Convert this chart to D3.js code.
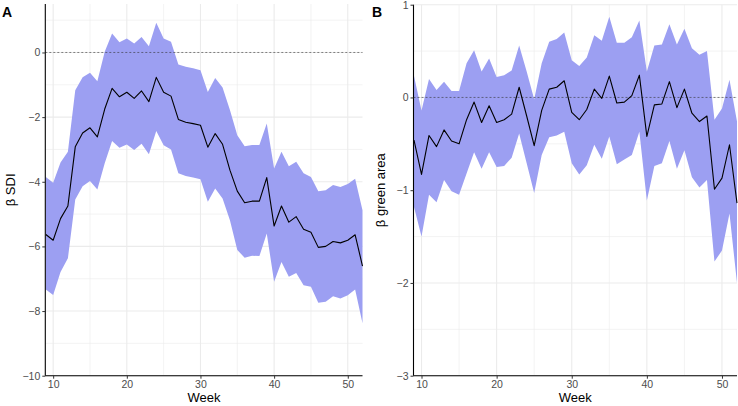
<!DOCTYPE html>
<html><head><meta charset="utf-8">
<script src="https://cdn.jsdelivr.net/npm/d3@7"></script>
<style>body{margin:0;background:#fff}svg{display:block}</style>
</head><body>
<script>
const weeks = d3.range(9, 53);
// Panel A: beta SDI
const sdiEst = [-5.63,-5.81,-5.14,-4.75,-2.92,-2.49,-2.33,-2.61,-1.75,-1.11,-1.37,-1.23,-1.42,-1.19,-1.52,-0.77,-1.23,-1.35,-2.07,-2.16,-2.20,-2.25,-2.93,-2.51,-2.84,-3.64,-4.29,-4.65,-4.60,-4.60,-3.87,-5.37,-4.75,-5.25,-5.08,-5.47,-5.56,-6.03,-6.00,-5.85,-5.89,-5.81,-5.64,-6.61];
const sdiUpper = [-3.85,-4.03,-3.40,-3.07,-1.17,-0.77,-0.63,-0.89,0.02,0.59,0.32,0.43,0.28,0.48,0.19,0.92,0.43,0.33,-0.37,-0.44,-0.49,-0.55,-1.22,-0.79,-1.08,-1.78,-2.56,-2.90,-2.86,-2.86,-2.20,-3.59,-3.07,-3.52,-3.38,-3.74,-3.85,-4.29,-4.26,-4.10,-4.16,-4.07,-3.91,-4.88];
const sdiLower = [-7.33,-7.50,-6.79,-6.37,-4.55,-4.14,-3.98,-4.24,-3.43,-2.74,-2.95,-2.85,-3.02,-2.82,-3.15,-2.43,-2.87,-3.00,-3.74,-3.82,-3.87,-3.92,-4.62,-4.21,-4.52,-5.19,-6.11,-6.35,-6.29,-6.30,-5.60,-7.09,-6.48,-6.94,-6.82,-7.20,-7.25,-7.74,-7.71,-7.54,-7.61,-7.51,-7.33,-8.38];
// Panel B: beta green area
const greenEst = [-0.46,-0.83,-0.41,-0.53,-0.35,-0.47,-0.50,-0.24,-0.05,-0.27,-0.09,-0.27,-0.24,-0.18,0.11,-0.20,-0.52,-0.14,0.09,0.11,0.18,-0.16,-0.24,-0.13,0.09,-0.01,0.23,-0.06,-0.05,0.02,0.24,-0.42,-0.08,-0.07,0.17,-0.11,0.09,-0.17,-0.26,-0.20,-0.99,-0.87,-0.51,-1.14];
const greenUpper = [0.23,-0.14,0.20,0.08,0.17,0.07,0.07,0.37,0.51,0.28,0.42,0.22,0.24,0.29,0.56,0.28,-0.02,0.37,0.60,0.63,0.70,0.40,0.34,0.43,0.67,0.61,0.87,0.59,0.59,0.65,0.83,0.28,0.56,0.57,0.79,0.57,0.74,0.53,0.46,0.50,-0.24,-0.12,0.19,-0.26];
const greenLower = [-1.18,-1.50,-1.05,-1.13,-0.89,-1.01,-1.05,-0.82,-0.59,-0.77,-0.59,-0.75,-0.74,-0.65,-0.39,-0.71,-1.03,-0.62,-0.43,-0.41,-0.37,-0.71,-0.83,-0.73,-0.51,-0.66,-0.42,-0.72,-0.67,-0.62,-0.37,-1.11,-0.74,-0.71,-0.47,-0.77,-0.57,-0.86,-0.97,-0.89,-1.77,-1.65,-1.25,-2.00];

const xTicks = [10,20,30,40,50];
const xMinor = [15,25,35,45];
const sdiTicks = [0,-2,-4,-6,-8,-10];
const sdiMinor = [1,-1,-3,-5,-7,-9];
const greenTicks = [1,0,-1,-2,-3];
const greenMinor = [0.5,-0.5,-1.5,-2.5];

const W = 738, H = 406;
const svg = d3.select("body").append("svg").attr("width", W).attr("height", H);
const FONT = "'Liberation Sans', Arial, Helvetica, sans-serif";
const fmt = v => (v < 0 ? "\u2212" + Math.abs(v) : String(v));

function panel(opt) {
  const {left, right, top, bottom, yDomain, est, upper, lower, yTicks, yMinor, label, ytitle, ytitleX, tagX} = opt;
  const x = d3.scaleLinear().domain([9, 52]).range([left + 0.5, right]);
  const y = d3.scaleLinear().domain(yDomain).range([bottom, top]);
  const g = svg.append("g");
  const grid = g.append("g");
  yMinor.forEach(v => grid.append("line").attr("x1", left).attr("x2", right).attr("y1", y(v)).attr("y2", y(v)).attr("stroke", "#ebebeb").attr("stroke-width", 0.6));
  xMinor.forEach(v => grid.append("line").attr("y1", top).attr("y2", bottom).attr("x1", x(v)).attr("x2", x(v)).attr("stroke", "#ebebeb").attr("stroke-width", 0.6));
  yTicks.forEach(v => grid.append("line").attr("x1", left).attr("x2", right).attr("y1", y(v)).attr("y2", y(v)).attr("stroke", "#ebebeb").attr("stroke-width", 1.1));
  xTicks.forEach(v => grid.append("line").attr("y1", top).attr("y2", bottom).attr("x1", x(v)).attr("x2", x(v)).attr("stroke", "#ebebeb").attr("stroke-width", 1.1));

  const data = weeks.map((w, i) => ({w, e: est[i], u: upper[i], l: lower[i]}));
  g.append("path").datum(data)
    .attr("d", d3.area().x(d => x(d.w)).y0(d => y(d.l)).y1(d => y(d.u)))
    .attr("fill", "#9c9ff2");
  g.append("line").attr("x1", left).attr("x2", right).attr("y1", y(0)).attr("y2", y(0))
    .attr("stroke", "#333").attr("stroke-width", 0.6).attr("stroke-dasharray", "2,2");
  g.append("path").datum(data)
    .attr("d", d3.line().x(d => x(d.w)).y(d => y(d.e)))
    .attr("fill", "none").attr("stroke", "#000").attr("stroke-width", 1.1).attr("stroke-linejoin", "round");

  const yAxis = g.append("g").attr("transform", `translate(${left},0)`)
    .call(d3.axisLeft(y).tickValues(yTicks).tickSize(3).tickPadding(2).tickFormat(fmt));
  yAxis.select(".domain").attr("d", `M0,${top}V${bottom}`).attr("stroke", "#000").attr("stroke-width", 1.1);
  const xAxis = g.append("g").attr("transform", `translate(0,${bottom})`)
    .call(d3.axisBottom(x).tickValues(xTicks).tickSize(3).tickPadding(2).tickFormat(d3.format("d")));
  xAxis.select(".domain").attr("d", `M${left},0H${right}`).attr("stroke", "#000").attr("stroke-width", 1.1);
  [xAxis, yAxis].forEach(a => {
    a.selectAll(".tick line").attr("stroke", "#333");
    a.selectAll(".tick text").attr("fill", "#4d4d4d").style("font-family", FONT).style("font-size", "10.5px");
  });

  g.append("text").attr("x", (left + right) / 2).attr("y", 402)
    .attr("text-anchor", "middle").style("font-family", FONT).style("font-size", "13px").text("Week");
  g.append("text").attr("transform", `translate(${ytitleX},${(top + bottom) / 2}) rotate(-90)`)
    .attr("text-anchor", "middle").style("font-family", FONT).style("font-size", "13px").text(ytitle);
  g.append("text").attr("x", tagX).attr("y", 17).style("font-family", FONT).style("font-size", "14px")
    .style("font-weight", "bold").text(label);
}

panel({left: 45.3, right: 362.5, top: 4, bottom: 375.7, yDomain: [-10, 1.5],
  est: sdiEst, upper: sdiUpper, lower: sdiLower, yTicks: sdiTicks, yMinor: sdiMinor,
  label: "A", ytitle: "\u03b2 SDI", ytitleX: 15, tagX: 2});
panel({left: 413.5, right: 737, top: 4.7, bottom: 375.7, yDomain: [-3, 1],
  est: greenEst, upper: greenUpper, lower: greenLower, yTicks: greenTicks, yMinor: greenMinor,
  label: "B", ytitle: "\u03b2 green area", ytitleX: 385, tagX: 372});
</script>
</body></html>
